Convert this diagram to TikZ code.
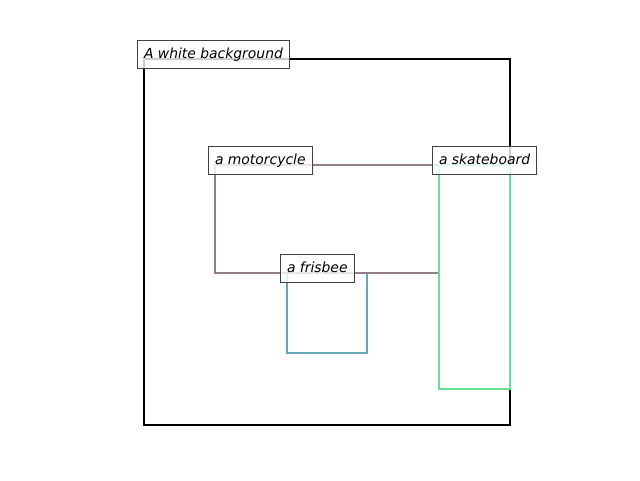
\documentclass[tikz,border=0pt]{standalone}
\usepackage{fontspec}
\setmainfont{DejaVu Sans}
\definecolor{moto}{HTML}{937E88}
\definecolor{skate}{HTML}{62E397}
\definecolor{fris}{HTML}{67A5BB}
\definecolor{lblborder}{HTML}{404040}
\tikzset{
  region/.style={line width=2.2pt},
  lbl/.style={draw=lblborder, line width=1pt, fill=white, fill opacity=0.8, text opacity=1,
    anchor=base west, inner xsep=6.5pt, inner ysep=4pt, text height=14.5pt, text depth=5.5pt,
    font=\fontsize{13.9pt}{16pt}\selectfont\itshape}
}
\begin{document}
\begin{tikzpicture}[x=1pt,y=-1pt]
\useasboundingbox (0,0) rectangle (640,480);
\coordinate (bgA) at (144,59); \coordinate (bgB) at (510,425);
\coordinate (frA) at (287,273); \coordinate (frB) at (367,353);
\coordinate (moA) at (215,165); \coordinate (moB) at (439,273);
\coordinate (skA) at (439,165); \coordinate (skB) at (510,389);
\draw[region, black] (bgA) rectangle (bgB);
\draw[region, fris] (frA) rectangle (frB);
\draw[region, moto] (moA) rectangle (moB);
\draw[region, skate] (skA) rectangle (skB);
\node[lbl] (lbg) at ([xshift=-7pt,yshift=0.5pt]bgA) {A white background};
\node[lbl] (lmo) at ([xshift=-7pt,yshift=0.5pt]moA) {a motorcycle};
\node[lbl] (lsk) at ([xshift=-7pt,yshift=0.5pt]skA) {a skateboard};
\node[lbl] (lfr) at ([xshift=-7pt,yshift=0.5pt]frA) {a frisbee};
\end{tikzpicture}
\end{document}
